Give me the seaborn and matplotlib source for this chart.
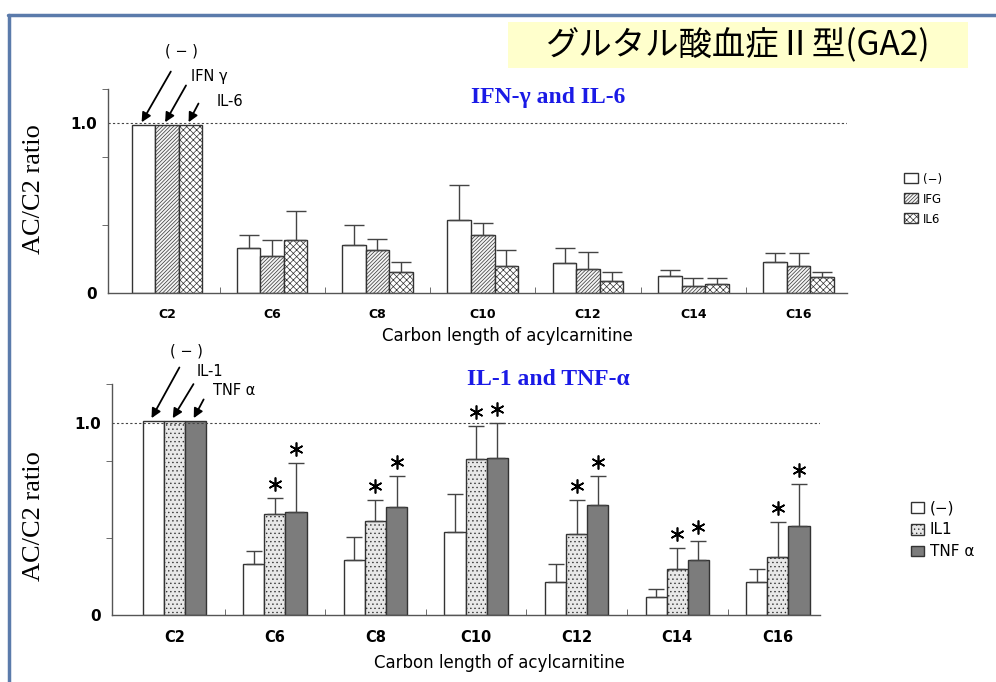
import numpy as np
import pandas as pd
import seaborn as sns
import matplotlib.pyplot as plt
from matplotlib.transforms import offset_copy
from matplotlib.lines import Line2D
from matplotlib.patches import Rectangle

## Data
chains = ["C2", "C6", "C8", "C10", "C12", "C14", "C16"]

# upper panel: IFN-γ and IL-6
top_groups = ["(−)", "IFG", "IL6"]
top_ctrl = [0.99, 0.265, 0.28, 0.43, 0.175, 0.10, 0.18]
top_ctrl_sd = [0, 0.075, 0.12, 0.205, 0.09, 0.035, 0.055]
top_ifg = [0.99, 0.22, 0.25, 0.34, 0.14, 0.04, 0.16]
top_ifg_sd = [0, 0.09, 0.07, 0.07, 0.10, 0.05, 0.075]
top_il6 = [0.99, 0.31, 0.125, 0.16, 0.07, 0.05, 0.095]
top_il6_sd = [0, 0.17, 0.055, 0.09, 0.055, 0.04, 0.03]

# lower panel: IL-1 and TNF-α
bot_groups = ["(−)", "IL1", "TNF α"]
bot_ctrl = [1.01, 0.265, 0.285, 0.43, 0.17, 0.095, 0.17]
bot_ctrl_sd = [0, 0.068, 0.12, 0.20, 0.095, 0.04, 0.07]
bot_il1 = [1.01, 0.525, 0.49, 0.81, 0.42, 0.24, 0.30]
bot_il1_sd = [0, 0.085, 0.11, 0.17, 0.175, 0.11, 0.185]
bot_tnf = [1.01, 0.535, 0.56, 0.815, 0.57, 0.285, 0.46]
bot_tnf_sd = [0, 0.255, 0.16, 0.18, 0.15, 0.10, 0.22]
# significance marks (*)
bot_il1_sig = [0, 1, 1, 1, 1, 1, 1]
bot_tnf_sig = [0, 1, 1, 1, 1, 1, 1]

top_arrow_labels = ["( − )", "IFN γ", "IL-6"]
bot_arrow_labels = ["( − )", "IL-1", "TNF α"]

sns.set_style("white")
plt.rcParams['font.family'] = ['DejaVu Sans', 'Noto Sans CJK JP']
plt.rcParams['hatch.linewidth'] = 0.5
for k in ['text.color', 'axes.labelcolor', 'xtick.color', 'ytick.color']:
    plt.rcParams[k] = 'black'

fig = plt.figure(figsize=(9.96, 6.82), dpi=100)
ax1 = fig.add_axes([0.1084, 0.5704, 0.742, 0.2991])
ax2 = fig.add_axes([0.1124, 0.0982, 0.711, 0.3387])

edge = "#333333"


def draw_panel(ax, groups, means, sds, faces, hatches, width, xlim, cap, fs):
    rows = []
    for g, m in zip(groups, means):
        for c, v in zip(chains, m):
            rows.append({"chain": c, "group": g, "ratio": v})
    df = pd.DataFrame(rows)
    sns.barplot(data=df, x="chain", y="ratio", hue="group", order=chains,
                hue_order=groups, palette=dict(zip(groups, faces)),
                width=width, saturation=1, errorbar=None, edgecolor=edge,
                linewidth=1, legend=False, ax=ax)
    bars = list(ax.containers)
    centers = []
    for cont, h, m, s in zip(bars, hatches, means, sds):
        xs = []
        for bar in cont:
            bar.set_hatch(h)
            xs.append(bar.get_x() + bar.get_width() / 2)
        xs = np.array(xs)
        centers.append(xs)
        s = np.array(s)
        keep = s > 0
        ax.errorbar(xs[keep], np.array(m)[keep],
                    yerr=[np.zeros(keep.sum()), s[keep]], fmt="none",
                    ecolor="#444444", elinewidth=1, capsize=cap, capthick=1)
    ax.axhline(1.0, color="#444444", lw=0.8, ls=(0, (2, 2)))
    ax.set_xlim(*xlim)
    ax.set_ylim(0, 1.2)
    ax.set_yticks([0, 1.0])
    ax.set_yticklabels(["0", "1.0"], fontsize=11, fontweight="bold")
    ax.set_yticks([0, 0.4, 0.8, 1.2], minor=True)
    ax.tick_params(axis="y", which="major", length=0, pad=8)
    ax.tick_params(axis="y", which="minor", length=4, direction="out",
                   color="#555555", left=True)
    ax.set_xticks(range(len(chains)))
    ax.set_xticklabels(chains, fontsize=fs, fontweight="bold")
    ax.set_xticks(np.arange(0.5, len(chains) - 1, 1), minor=True)
    ax.tick_params(axis="x", which="major", length=0, pad=11)
    ax.tick_params(axis="x", which="minor", length=4, direction="in",
                   color="#555555", bottom=True)
    for sp in ["top", "right"]:
        ax.spines[sp].set_visible(False)
    for sp in ["left", "bottom"]:
        ax.spines[sp].set_color("#555555")
        ax.spines[sp].set_linewidth(1)
    ax.set_ylabel("AC/C2 ratio", family="Liberation Serif", fontsize=19)
    ax.set_xlabel("Carbon length of acylcarnitine", fontsize=12)
    legend = ax.legend(handles=[c.patches[0] for c in bars],
                       labels=groups, frameon=False, loc="center left",
                       handlelength=1.0, handleheight=0.8, handletextpad=0.4,
                       labelspacing=0.5)
    return centers, legend


# upper panel
c1, leg1 = draw_panel(ax1, top_groups,
                      [top_ctrl, top_ifg, top_il6],
                      [top_ctrl_sd, top_ifg_sd, top_il6_sd],
                      ["white", "#f4f4f4", "white"], ["", "/////////", "xxxxx"],
                      0.67, (-0.56, 6.46), 7, 9)
leg1.set_bbox_to_anchor((1.06, 0.46))
for t in leg1.get_texts():
    t.set_fontsize(8.5)
ax1.yaxis.set_label_coords(-0.085, 0.51)
ax1.xaxis.set_label_coords(0.54, -0.165)

# lower panel
c2, leg2 = draw_panel(ax2, bot_groups,
                      [bot_ctrl, bot_il1, bot_tnf],
                      [bot_ctrl_sd, bot_il1_sd, bot_tnf_sd],
                      ["white", "#e8e8e8", "#7c7c7c"], ["", "....", ""],
                      0.63, (-0.62, 6.42), 6, 10.5)
leg2.set_bbox_to_anchor((1.11, 0.37))
for t in leg2.get_texts():
    t.set_fontsize(11)
ax2.yaxis.set_label_coords(-0.095, 0.43)
ax2.xaxis.set_label_coords(0.547, -0.17)

# significance asterisks above the error bars
star_tr = offset_copy(ax2.transData, fig=fig, x=0, y=14, units="dots")
for xs, m, s, sig in [(c2[1], bot_il1, bot_il1_sd, bot_il1_sig),
                      (c2[2], bot_tnf, bot_tnf_sd, bot_tnf_sig)]:
    for x, v, e, flag in zip(xs, m, s, sig):
        if flag:
            ax2.plot(x, v + e, marker=(6, 2, 0), ms=10, mew=1.2,
                     color="black", transform=star_tr, clip_on=False)

# arrows pointing to C2 bars
def label_arrows(ax, centers, heights, labels, tails, texts):
    for xs, h, lab, tl, tx in zip(centers, heights, labels, tails, texts):
        ax.annotate("", xy=(xs[0] - 0.03, h[0]), xytext=tl,
                    textcoords="offset points",
                    arrowprops=dict(arrowstyle="-|>", color="black", lw=1.3,
                                    mutation_scale=14))
        ax.annotate(lab, xy=(xs[0] - 0.03, h[0]), xytext=tx,
                    textcoords="offset points", ha="center", va="center",
                    fontsize=10.5, annotation_clip=False)


label_arrows(ax1, c1, [top_ctrl, top_ifg, top_il6], top_arrow_labels,
             [(23, 40), (17, 30), (9, 17)], [(30, 53), (33, 35), (31, 17)])
label_arrows(ax2, c2, [bot_ctrl, bot_il1, bot_tnf], bot_arrow_labels,
             [(22, 40), (17, 28), (9, 17)], [(26, 50), (28, 35), (30, 22)])

# panel titles
fig.text(0.550, 1 - 97 / 682, "IFN-γ and IL-6", ha="center", va="center",
         color="#1a1ae6", fontsize=17, fontweight="bold",
         family="Liberation Serif")
fig.text(0.551, 1 - 380 / 682, "IL-1 and TNF-α", ha="center", va="center",
         color="#1a1ae6", fontsize=17, fontweight="bold",
         family="Liberation Serif")

# header box and slide frame
fig.add_artist(Rectangle((508 / 996, 1 - 68 / 682), 460 / 996, 46 / 682,
                         transform=fig.transFigure, facecolor="#ffffcc",
                         edgecolor="none"))
fig.text(737 / 996, 1 - 45 / 682, "グルタル酸血症Ⅱ型(GA2)", ha="center",
         va="center", fontsize=24, family=["Noto Sans CJK JP", "DejaVu Sans"])
fig.add_artist(Line2D([8 / 996, 1], [1 - 15 / 682, 1 - 15 / 682],
                      transform=fig.transFigure, color="#5b7bab", lw=2.5))
fig.add_artist(Line2D([9 / 996, 9 / 996], [0, 1 - 15 / 682],
                      transform=fig.transFigure, color="#5b7bab", lw=2.5))

fig.savefig("out.png", dpi=100)
